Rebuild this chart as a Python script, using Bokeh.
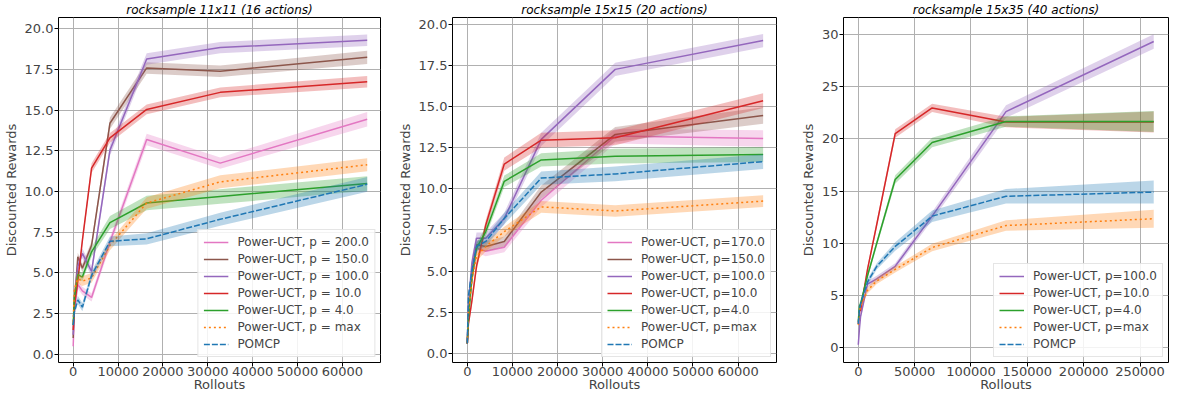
from bokeh.plotting import figure
from bokeh.layouts import row
from bokeh.models import Range1d, FixedTicker, NumeralTickFormatter, Legend, LegendItem
from bokeh.embed import file_html
from bokeh.resources import INLINE

# ---------------- data ----------------
TITLES = ["rocksample 11x11 (16 actions)", "rocksample 15x15 (20 actions)", "rocksample 15x35 (40 actions)"]

X1 = [1, 256, 1024, 2048, 4096, 8192, 16384, 32768, 65536]
X2 = [1, 256, 1024, 2048, 4096, 8192, 16384, 32768, 65536]
X3 = [1, 1024, 2048, 8192, 16384, 32768, 65536, 131072, 262144]

LABELS1 = ["Power-UCT, p = 200.0", "Power-UCT, p = 150.0", "Power-UCT, p = 100.0",
           "Power-UCT, p = 10.0", "Power-UCT, p = 4.0", "Power-UCT, p = max", "POMCP"]
LABELS2 = ["Power-UCT, p=170.0", "Power-UCT, p=150.0", "Power-UCT, p=100.0",
           "Power-UCT, p=10.0", "Power-UCT, p=4.0", "Power-UCT, p=max", "POMCP"]
LABELS3 = ["Power-UCT, p=100.0", "Power-UCT, p=10.0", "Power-UCT, p=4.0",
           "Power-UCT, p=max", "POMCP"]

# panel 1 means / half-widths
P1_200 = [0.5, 2.6, 4.3, 3.9, 3.5, 6.9, 13.2, 11.75, 14.45]
P1_150 = [1.0, 3.0, 6.0, 5.3, 6.7, 14.2, 17.6, 17.4, 18.25]
P1_100 = [1.2, 3.5, 5.4, 6.2, 5.1, 12.55, 18.15, 18.85, 19.3]
P1_10 = [1.5, 3.0, 4.5, 7.0, 11.45, 13.3, 15.05, 16.1, 16.75]
P1_4 = [1.8, 3.5, 4.9, 4.75, 6.3, 8.1, 9.3, 9.7, 10.5]
P1_MAX = [2.0, 4.0, 4.65, 4.5, 4.7, 6.7, 9.3, 10.6, 11.65]
P1_POMCP = [1.8, 2.6, 3.35, 2.9, 4.85, 6.95, 7.1, 8.3, 10.45]
E1_200 = [0.1, 0.2, 0.25, 0.25, 0.25, 0.3, 0.35, 0.35, 0.45]
E1_150 = [0.1, 0.2, 0.25, 0.25, 0.25, 0.35, 0.35, 0.35, 0.4]
E1_100 = [0.1, 0.2, 0.3, 0.3, 0.3, 0.35, 0.35, 0.35, 0.35]
E1_10 = [0.1, 0.2, 0.25, 0.25, 0.3, 0.3, 0.3, 0.3, 0.35]
E1_4 = [0.1, 0.2, 0.25, 0.25, 0.3, 0.4, 0.45, 0.45, 0.45]
E1_MAX = [0.1, 0.3, 0.3, 0.3, 0.3, 0.3, 0.35, 0.4, 0.4]
E1_POMCP = [0.1, 0.2, 0.25, 0.25, 0.25, 0.3, 0.35, 0.4, 0.45]

# panel 2
P2_170 = [0.6, 2.5, 4.5, 6.4, 6.2, 6.45, 9.3, 13.2, 13.05]
P2_150 = [0.6, 2.5, 5.0, 6.6, 6.5, 6.8, 9.8, 13.3, 14.45]
P2_100 = [0.6, 3.0, 5.5, 7.0, 7.0, 8.2, 13.0, 17.25, 19.0]
P2_10 = [0.6, 1.8, 3.2, 5.3, 7.8, 11.5, 12.95, 13.1, 15.35]
P2_4 = [0.6, 2.2, 4.5, 6.4, 7.4, 10.45, 11.75, 11.98, 12.08]
P2_MAX = [0.6, 2.5, 4.5, 5.9, 6.5, 7.4, 8.9, 8.65, 9.25]
P2_POMCP = [0.6, 3.5, 5.0, 6.5, 6.8, 8.2, 10.65, 10.9, 11.65]
E2_170 = [0.1, 0.2, 0.3, 0.3, 0.3, 0.3, 0.4, 0.45, 0.5]
E2_150 = [0.1, 0.2, 0.3, 0.3, 0.3, 0.3, 0.4, 0.45, 0.5]
E2_100 = [0.1, 0.2, 0.35, 0.35, 0.35, 0.35, 0.4, 0.4, 0.4]
E2_10 = [0.1, 0.2, 0.3, 0.3, 0.3, 0.4, 0.45, 0.45, 0.45]
E2_4 = [0.1, 0.2, 0.3, 0.3, 0.3, 0.35, 0.4, 0.45, 0.45]
E2_MAX = [0.1, 0.2, 0.3, 0.3, 0.3, 0.3, 0.35, 0.35, 0.35]
E2_POMCP = [0.1, 0.2, 0.3, 0.3, 0.3, 0.35, 0.4, 0.45, 0.45]

# panel 3
P3_100 = [0.3, 1.8, 3.0, 6.1, 6.6, 7.8, 12.6, 22.6, 29.3]
P3_10 = [2.3, 3.5, 3.6, 7.5, 11.8, 20.5, 22.95, 21.6, 21.6]
P3_4 = [2.5, 4.0, 4.2, 6.9, 10.0, 16.1, 19.65, 21.65, 21.65]
P3_MAX = [2.2, 3.5, 4.0, 5.5, 6.4, 7.5, 9.6, 11.7, 12.35]
P3_POMCP = [2.3, 3.6, 4.2, 6.3, 7.8, 9.7, 12.6, 14.5, 14.9]
E3_100 = [0.1, 0.2, 0.2, 0.3, 0.3, 0.3, 0.4, 0.6, 0.7]
E3_10 = [0.2, 0.3, 0.3, 0.3, 0.3, 0.4, 0.4, 0.5, 1.0]
E3_4 = [0.2, 0.3, 0.3, 0.3, 0.3, 0.4, 0.45, 0.5, 1.0]
E3_MAX = [0.1, 0.2, 0.2, 0.3, 0.3, 0.3, 0.35, 0.5, 0.85]
E3_POMCP = [0.1, 0.2, 0.2, 0.3, 0.3, 0.4, 0.55, 0.7, 1.1]

X_TICKS12 = [0, 10000, 20000, 30000, 40000, 50000, 60000]
X_TICKS3 = [0, 50000, 100000, 150000, 200000, 250000]
Y_TICKS12 = [0.0, 2.5, 5.0, 7.5, 10.0, 12.5, 15.0, 17.5, 20.0]
Y_TICKS3 = [0, 5, 10, 15, 20, 25, 30]

# ---------------- styles ----------------
PINK, BROWN, PURPLE, RED, GREEN, ORANGE, BLUE = (
    "#e377c2", "#8c564b", "#9467bd", "#d62728", "#2ca02c", "#ff7f0e", "#1f77b4")
FONT = "DejaVu Sans"
DOT = "2 3"
DASH = "6 2"


def make_panel(title, x, means, errs, labels, colors, dashes, xr, yr, xticks, yticks, yfmt,
               width, bl, br):
    p = figure(width=width, height=394, output_backend="svg", toolbar_location=None,
               x_range=Range1d(*xr), y_range=Range1d(*yr), title=title,
               min_border_left=bl, min_border_right=br, min_border_top=0, min_border_bottom=0)
    p.title.text_font = FONT
    p.title.text_font_style = "italic"
    p.title.text_font_size = "12px"
    p.title.align = "center"
    p.title.standoff = 1
    p.title.offset = 0
    p.title.text_color = "black"

    items = []
    for m, e, lab, c, d in zip(means, errs, labels, colors, dashes):
        lo = [a - b for a, b in zip(m, e)]
        hi = [a + b for a, b in zip(m, e)]
        p.varea(x=x, y1=lo, y2=hi, fill_color=c, fill_alpha=0.3)
        r = p.line(x, m, line_color=c, line_width=1.5, line_dash=d)
        items.append(LegendItem(label=lab, renderers=[r]))

    leg = Legend(items=items, location="bottom_right")
    leg.label_text_font = FONT
    leg.label_text_font_size = "12px"
    leg.glyph_width = 25
    leg.glyph_height = 14
    leg.label_height = 14
    leg.spacing = 3
    leg.padding = 5
    leg.margin = 5
    leg.label_standoff = 9
    leg.border_line_color = "#cccccc"
    leg.border_line_width = 1
    leg.background_fill_alpha = 0.85
    p.add_layout(leg)

    p.xaxis.ticker = FixedTicker(ticks=xticks)
    p.yaxis.ticker = FixedTicker(ticks=yticks)
    p.xaxis.formatter = NumeralTickFormatter(format="0")
    p.yaxis.formatter = NumeralTickFormatter(format=yfmt)
    p.xaxis.axis_label = "Rollouts"
    p.yaxis.axis_label = "Discounted Rewards"
    for ax in (p.xaxis, p.yaxis):
        ax.axis_label_text_font = FONT
        ax.axis_label_text_font_size = "13px"
        ax.axis_label_text_font_style = "normal"
        ax.major_label_text_font = FONT
        ax.major_label_text_font_size = "13px"
        ax.major_tick_out = 4
        ax.major_tick_in = 0
        ax.minor_tick_line_color = None
        ax.axis_line_color = None
        ax.major_tick_line_color = "black"
    p.xaxis.axis_label_standoff = -2
    p.xaxis.major_label_standoff = 0
    p.yaxis.axis_label_standoff = 3
    p.yaxis.major_label_standoff = 1
    p.grid.grid_line_color = "#b0b0b0"
    p.grid.grid_line_width = 1
    p.outline_line_color = "black"
    p.outline_line_width = 1
    p.outline_line_alpha = 1
    return p


dash7 = ["solid", "solid", "solid", "solid", "solid", DOT, DASH]
p1 = make_panel(TITLES[0], X1,
                [P1_200, P1_150, P1_100, P1_10, P1_4, P1_MAX, P1_POMCP],
                [E1_200, E1_150, E1_100, E1_10, E1_4, E1_MAX, E1_POMCP],
                LABELS1, [PINK, BROWN, PURPLE, RED, GREEN, ORANGE, BLUE], dash7,
                (-3276, 68500), (-0.5, 20.7), X_TICKS12, Y_TICKS12, "0.0", 394, 50, 14)
p2 = make_panel(TITLES[1], X2,
                [P2_170, P2_150, P2_100, P2_10, P2_4, P2_MAX, P2_POMCP],
                [E2_170, E2_150, E2_100, E2_10, E2_4, E2_MAX, E2_POMCP],
                LABELS2, [PINK, BROWN, PURPLE, RED, GREEN, ORANGE, BLUE], dash7,
                (-3276, 68500), (-0.55, 20.4), X_TICKS12, Y_TICKS12, "0.0", 396, 53, 14)
p3 = make_panel(TITLES[2], X3,
                [P3_100, P3_10, P3_4, P3_MAX, P3_POMCP],
                [E3_100, E3_10, E3_4, E3_MAX, E3_POMCP],
                LABELS3, [PURPLE, RED, GREEN, ORANGE, BLUE],
                ["solid", "solid", "solid", DOT, DASH],
                (-13106, 275251), (-1.4, 31.6), X_TICKS3, Y_TICKS3, "0", 381, 53, 3)

layout = row(p1, p2, p3)
open("out.html", "w").write(file_html(layout, INLINE))
